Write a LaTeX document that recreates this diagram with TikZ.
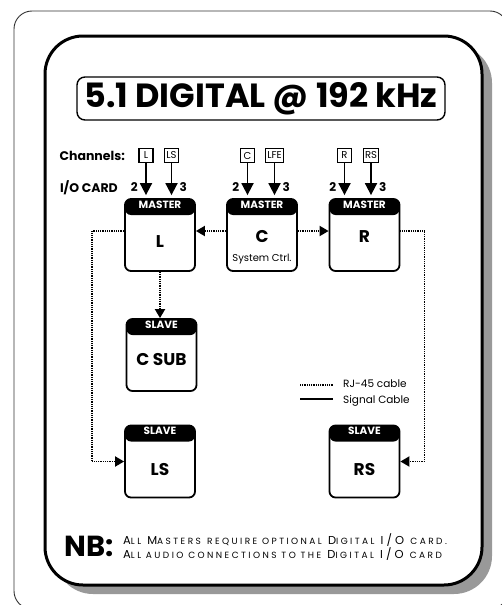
\documentclass[tikz,border=0pt]{standalone}
\usepackage{fontspec}
\setmainfont{Poppins}
\newfontfamily\nbfont{Poppins}[LetterSpace=27]
\usetikzlibrary{arrows.meta,positioning}
\newcommand\nbsmall[1]{{\fontsize{9}{10}\selectfont #1}}

\begin{document}
\begin{tikzpicture}[
  x=1pt, y=-1pt,
  font=\small,
  unit/.style={
    draw=black,
    line width=1.8pt,
    rounded corners=6pt,
    fill=white,
    minimum width=70pt,
    minimum height=72pt,
    inner sep=0pt,
    path picture={\fill[black] (path picture bounding box.north west)
      rectangle ([yshift=-16pt]path picture bounding box.north east);}
  },
  headtxt/.style={anchor=north, text=white, font=\fontsize{10.5}{12}\selectfont\bfseries, inner sep=2.6pt},
  unittxt/.style={font=\fontsize{17}{19}\selectfont\bfseries, align=center, inner sep=0pt},
  chbox/.style={draw=black, line width=1.1pt, minimum height=14pt, minimum width=14pt,
    inner sep=1.5pt, font=\fontsize{10}{11}\selectfont},
  rowtxt/.style={font=\fontsize{12.5}{14}\selectfont\bfseries, inner sep=0pt},
  num/.style={font=\fontsize{12}{13}\selectfont\bfseries, inner sep=0pt},
  sig/.style={-{Triangle[length=12pt, width=12pt]}, line width=1.8pt, shorten >=3pt},
  rj/.style={line width=1.8pt, dash pattern=on 1pt off 0.8pt},
  rjarrow/.style={rj, -{Triangle[length=9pt, width=10pt]}},
  legtxt/.style={anchor=west, font=\fontsize{10.5}{12}\selectfont, inner sep=0pt}
]
\clip (0,0) rectangle (502,605);
\useasboundingbox (0,0) rectangle (502,605);

% frames
\draw[black!80, line width=0.9pt, rounded corners=18pt] (14,11) rectangle (508,609);
\fill[black!40, rounded corners=38pt] (55,45) rectangle (492,594);
\draw[line width=3pt, fill=white, rounded corners=38pt] (45,36) rectangle (482,585);

\node[draw, line width=1.4pt, rounded corners=8pt, minimum width=368pt, minimum height=43pt,
  font=\fontsize{33.5}{35}\selectfont\bfseries] (title) at (261,98.5) {5.1 DIGITAL @ 192 kHz};

% channel inputs
\node[rowtxt, anchor=east] (chan) at (125,155.5) {Channels:};
\node[rowtxt, anchor=east] (iocard) at (118,187.5) {I/O CARD};
\node[chbox] (chL) at (146,155.5) {L};
\node[chbox] (chLS) at (171.5,155.5) {LS};
\node[chbox] (chC) at (247.5,155.5) {C};
\node[chbox] (chLFE) at (274.5,155.5) {LFE};
\node[chbox] (chR) at (344.5,155.5) {R};
\node[chbox] (chRS) at (371,155.5) {RS};

% masters
\node[unit] (Lm) at (160,235) {};
\node[unit] (Cm) at (262,235) {};
\node[unit] (Rm) at (364.5,235) {};
\node[headtxt] (Lmh) at (Lm.north) {MASTER};
\node[headtxt] (Cmh) at (Cm.north) {MASTER};
\node[headtxt] (Rmh) at (Rm.north) {MASTER};
\node[unittxt] (Lmt) at ([yshift=-7pt]Lm.center) {L};
\node[unittxt] (Cmt) at ([yshift=-2pt]Cm.center) {C};
\node[font=\fontsize{10}{11}\selectfont, inner sep=0pt] (Cmsys) at ([yshift=-24pt]Cm.center) {System Ctrl.};
\node[unittxt] (Rmt) at ([yshift=-2pt]Rm.center) {R};

% slaves
\node[unit] (Cs) at (161.5,355) {};
\node[unit] (LSs) at (160,461.5) {};
\node[unit] (RSs) at (364.5,461.5) {};
\node[headtxt] (Csh) at (Cs.north) {SLAVE};
\node[headtxt] (LSsh) at (LSs.north) {SLAVE};
\node[headtxt] (RSsh) at (RSs.north) {SLAVE};
\node[unittxt] (Cst) at ([yshift=-5pt]Cs.center) {C SUB};
\node[unittxt] (LSst) at ([yshift=-8pt]LSs.center) {LS};
\node[unittxt] (RSst) at ([yshift=-8pt]RSs.center) {RS};

% signal cables
\draw[sig] (chL.south) -- (chL.south |- Lm.north);
\draw[sig] (chLS.south) -- (chLS.south |- Lm.north);
\draw[sig] (chC.south) -- (chC.south |- Cm.north);
\draw[sig] (chLFE.south) -- (chLFE.south |- Cm.north);
\draw[sig] (chR.south) -- (chR.south |- Rm.north);
\draw[sig] (chRS.south) -- (chRS.south |- Rm.north);
\node[num, anchor=east] (nL2) at ([xshift=-8pt]chL.south |- iocard) {2};
\node[num, anchor=west] (nL3) at ([xshift=8pt]chLS.south |- iocard) {3};
\node[num, anchor=east] (nC2) at ([xshift=-8pt]chC.south |- iocard) {2};
\node[num, anchor=west] (nC3) at ([xshift=8pt]chLFE.south |- iocard) {3};
\node[num, anchor=east] (nR2) at ([xshift=-8pt]chR.south |- iocard) {2};
\node[num, anchor=west] (nR3) at ([xshift=8pt]chRS.south |- iocard) {3};

% RJ-45 links
\draw[rjarrow] ([yshift=4pt]Cm.west) -- ([yshift=4pt]Lm.east);
\draw[rjarrow] ([yshift=4pt]Cm.east) -- ([yshift=4pt]Rm.west);
\draw[rjarrow] (Lm.south) -- (Lm.south |- Cs.north);
\draw[rjarrow] ([yshift=4pt]Lm.west) -- ++(-32,0) |- (LSs.west);
\draw[rjarrow] ([yshift=4pt]Rm.east) -- ++(24,0) |- (RSs.east);

% legend
\coordinate (rjA) at (300,385);
\coordinate (rjB) at (333,385);
\coordinate (sgA) at (300,399);
\coordinate (sgB) at (333,399);
\draw[rj] (rjA) -- (rjB);
\draw[line width=1.8pt] (sgA) -- (sgB);
\node[legtxt] (rjtxt) at (343,384) {RJ-45 cable};
\node[legtxt] (sgtxt) at (343,401) {Signal Cable};

% note
\node[font=\fontsize{29}{30}\selectfont\bfseries, inner sep=0pt] (nb) at (89,546) {NB:};
\node[anchor=west, inner sep=0pt, align=left, font=\nbfont\fontsize{11.5}{13.5}\selectfont] (nbtxt) at (123,547)
  {A\nbsmall{LL} M\nbsmall{ASTERS} \nbsmall{REQUIRE OPTIONAL} D\nbsmall{IGITAL} I/O \nbsmall{CARD.}\\
   A\nbsmall{LL AUDIO CONNECTIONS TO THE} D\nbsmall{IGITAL} I/O \nbsmall{CARD}};
\end{tikzpicture}
\end{document}
